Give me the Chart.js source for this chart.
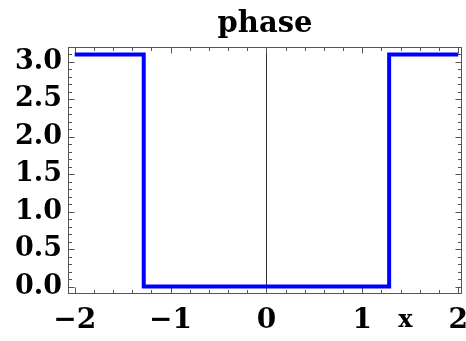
<!DOCTYPE html>
<html>
<head>
<meta charset="utf-8">
<script src="https://cdn.jsdelivr.net/npm/chart.js@4.4.1/dist/chart.umd.min.js"></script>
<style>
  html, body { margin: 0; padding: 0; background: #fff; }
  #box { width: 466px; height: 341px; }
</style>
</head>
<body>
<div id="box"><canvas id="myChart"></canvas></div>
<script>
// phase is ~pi outside |x| < 1.28 and zero inside
let xs = [-2, -1.28, -1.28, 1.28, 1.28, 2];
let phase = [3.1, 3.1, 0, 0, 3.1, 3.1];
let xTicks = [-2, -1, 0, 1, 2];
let yTicks = [0, 0.5, 1, 1.5, 2, 2.5, 3];
let xLabel = 'x', xLabelAt = 1.45;

const serif = 'DejaVu Serif';

// box frame with inward ticks on every side, plus the vertical axis at x = 0
const frame = {
  id: 'frame',
  beforeDatasetsDraw(chart) {
    const {ctx, chartArea: a, scales: {x, y}} = chart;
    ctx.save();
    ctx.lineWidth = 1;
    ctx.strokeStyle = '#333';
    let x0 = Math.round(x.getPixelForValue(0)) + 0.5;
    ctx.beginPath(); ctx.moveTo(x0, a.top); ctx.lineTo(x0, a.bottom); ctx.stroke();

    ctx.strokeStyle = '#555';
    const L = Math.round(a.left) + 0.5, R = Math.round(a.right) - 0.5;
    const T = Math.round(a.top) + 0.5, B = Math.round(a.bottom) - 0.5;
    ctx.strokeRect(L, T, R - L, B - T);

    ctx.beginPath();
    for (let i = -10; i <= 10; i++) {
      let v = i / 5, len = i % 5 === 0 ? 6 : 3.5;
      let px = Math.round(x.getPixelForValue(v)) + 0.5;
      ctx.moveTo(px, B); ctx.lineTo(px, B - len);
      ctx.moveTo(px, T); ctx.lineTo(px, T + len);
    }
    for (let i = 0; i <= 31; i++) {
      let v = i / 10, len = i % 5 === 0 ? 6 : 3.5;
      let py = Math.round(y.getPixelForValue(v)) + 0.5;
      ctx.moveTo(L, py); ctx.lineTo(L + len, py);
      ctx.moveTo(R, py); ctx.lineTo(R - len, py);
    }
    ctx.stroke();
    ctx.restore();
  },
  afterDraw(chart) {
    const {ctx, scales: {x}} = chart;
    ctx.save();
    ctx.fillStyle = '#000';
    ctx.font = 'bold 24px "' + serif + '"';
    ctx.textAlign = 'center';
    ctx.textBaseline = 'alphabetic';
    ctx.fillText(xLabel, x.getPixelForValue(xLabelAt), 327);
    ctx.restore();
  }
};

const ctx = document.getElementById('myChart').getContext('2d');

const chart = new Chart(ctx, {
  type: 'line',
  data: {
    datasets: [{
      data: xs.map((v, i) => ({x: v, y: phase[i]})),
      borderColor: '#0000ff',
      borderWidth: 4,
      pointRadius: 0,
      fill: false,
      tension: 0
    }]
  },
  options: {
    responsive: true,
    maintainAspectRatio: false,
    animation: false,
    layout: { padding: { left: 0, right: 4, top: 0, bottom: 0 } },
    plugins: {
      legend: { display: false },
      tooltip: { enabled: false },
      title: {
        display: true,
        fullSize: false,
        text: 'phase',
        color: '#000',
        font: { family: serif, size: 29, weight: 'bold', lineHeight: 1.2 },
        padding: { top: 7, bottom: 5.2 }
      }
    },
    scales: {
      x: {
        type: 'linear',
        min: -2.07,
        max: 2.04,
        afterBuildTicks: s => { s.ticks = xTicks.map(v => ({value: v})); },
        afterFit: s => { s.height = 47; s.paddingRight = 0; s.paddingLeft = 0; },
        grid: { display: false, drawTicks: false },
        border: { display: false },
        ticks: {
          color: '#000',
          padding: 10,
          maxRotation: 0,
          font: { family: serif, size: 28, weight: 'bold' },
          callback: v => String(v).replace('-', '\u2212')
        }
      },
      y: {
        min: -0.1,
        max: 3.2,
        afterBuildTicks: s => { s.ticks = yTicks.map(v => ({value: v})); },
        afterFit: s => { s.width = 68; },
        grid: { display: false, drawTicks: false },
        border: { display: false },
        ticks: {
          color: '#000',
          padding: 6,
          font: { family: serif, size: 27, weight: 'bold' },
          callback: v => v.toFixed(1)
        }
      }
    }
  },
  plugins: [frame]
});
</script>
</body>
</html>
